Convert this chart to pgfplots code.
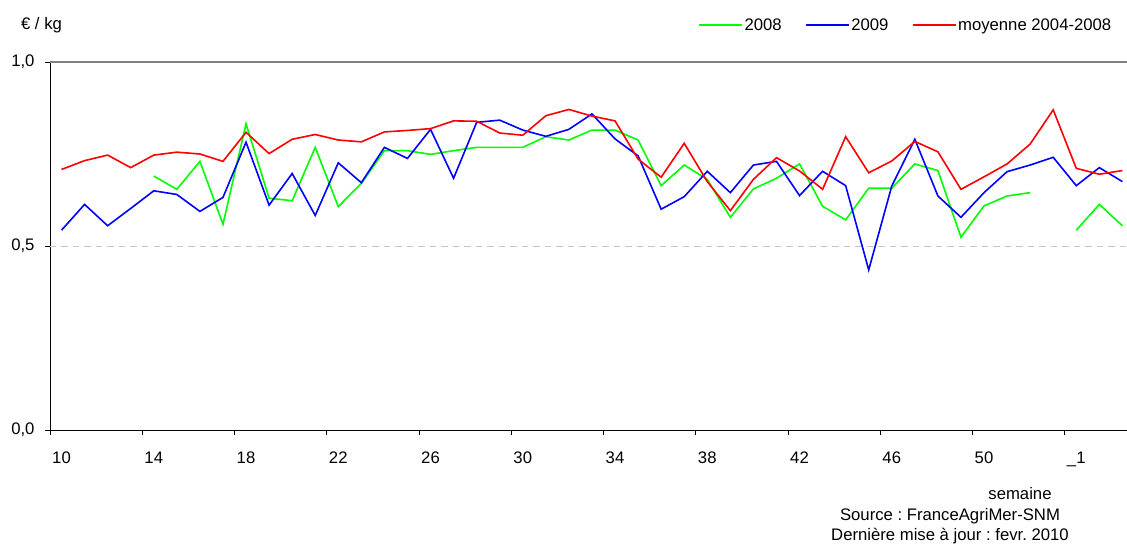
\documentclass[border=0pt]{standalone}
\usepackage{fontspec}
\setmainfont{Liberation Sans}
\usepackage{pgfplots}
\pgfplotsset{compat=1.18}
\newcommand\f{\fontsize{16.7}{20}\selectfont}
\definecolor{cgreen}{RGB}{0,255,0}
\definecolor{cblue}{RGB}{0,0,255}
\definecolor{cred}{RGB}{255,0,0}
\frenchspacing
\begin{document}
\begin{tikzpicture}
\path[use as bounding box] (-50pt,-116pt) rectangle (1077pt,430pt);
\begin{axis}[
  scale only axis, width=1077pt, height=368pt,
  xmin=-0.5, xmax=46.2, ymin=0, ymax=1,
  axis x line=bottom, axis y line=left,
  axis line style={-, black, line width=0.9pt},
  xtick={-0.5,3.5,7.5,11.5,15.5,19.5,23.5,27.5,31.5,35.5,39.5,43.5},
  xticklabels={10,14,18,22,26,30,34,38,42,46,50,\_1},
  xticklabel style={font=\f, xshift=11.53pt, yshift=-13pt},
  ytick={0,0.5,1},
  yticklabels={{0,0},{0,5},{1,0}},
  yticklabel style={font=\f, xshift=-7pt},
  tick align=outside, major tick length=5pt,
  tick style={black, line width=0.9pt},
  unbounded coords=jump,
  legend style={draw=none, fill=none, at={(axis description cs:0.987,1.1)}, anchor=east,
    legend columns=-1, font=\f, inner sep=0pt, nodes={inner sep=1.5pt},
    /tikz/every even column/.append style={column sep=22pt}},
  legend image code/.code={\draw[#1] (0pt,0pt) -- (43pt,0pt);},
  every axis plot/.append style={line width=1.6pt},
]
\draw[gray!45, line width=0.9pt, dash pattern=on 6.5pt off 5pt] (axis cs:-0.5,0.5) -- (axis cs:46.2,0.5);
\draw[gray, line width=1.2pt] (axis cs:-0.5,1) -- (axis cs:46.2,1);
\addplot[cgreen] coordinates {
(4,0.690) (5,0.654) (6,0.730) (7,0.559) (8,0.832) (9,0.630) (10,0.623) (11,0.768) (12,0.607)
(13,0.670) (14,0.759) (15,0.759) (16,0.749) (17,0.759) (18,0.768) (19,0.768) (20,0.768) (21,0.797) (22,0.788) (23,0.815) (24,0.815)
(25,0.788) (26,0.664) (27,0.720) (28,0.681) (29,0.578) (30,0.655) (31,0.684) (32,0.723) (33,0.608) (34,0.571) (35,0.657)
(36,0.657) (37,0.723) (38,0.705) (39,0.524) (40,0.609) (41,0.636) (42,0.645) (43,nan) (44,0.543) (45,0.613) (46,0.555)
};
\addlegendentry{2008}
\addplot[cblue] coordinates {
(0,0.543) (1,0.613) (2,0.555) (3,0.602) (4,0.650) (5,0.640) (6,0.594) (7,0.632) (8,0.782) (9,0.611) (10,0.697) (11,0.583) (12,0.726)
(13,0.672) (14,0.768) (15,0.738) (16,0.817) (17,0.684) (18,0.836) (19,0.842) (20,0.815) (21,0.798) (22,0.817) (23,0.859) (24,0.791)
(25,0.745) (26,0.600) (27,0.634) (28,0.703) (29,0.645) (30,0.720) (31,0.730) (32,0.637) (33,0.703) (34,0.664) (35,0.435)
(36,0.663) (37,0.790) (38,0.636) (39,0.578) (40,0.645) (41,0.702) (42,0.720) (43,0.741) (44,0.664) (45,0.713) (46,0.675)
};
\addlegendentry{2009}
\addplot[cred] coordinates {
(0,0.708) (1,0.732) (2,0.747) (3,0.713) (4,0.747) (5,0.755) (6,0.750) (7,0.730) (8,0.809) (9,0.751) (10,0.790) (11,0.803) (12,0.788)
(13,0.783) (14,0.810) (15,0.814) (16,0.819) (17,0.840) (18,0.839) (19,0.807) (20,0.801) (21,0.854) (22,0.871) (23,0.853) (24,0.840)
(25,0.736) (26,0.687) (27,0.779) (28,0.675) (29,0.596) (30,0.681) (31,0.740) (32,0.704) (33,0.654) (34,0.797) (35,0.699)
(36,0.731) (37,0.784) (38,0.756) (39,0.654) (40,0.688) (41,0.723) (42,0.777) (43,0.870) (44,0.711) (45,0.695) (46,0.705)
};
\addlegendentry{moyenne 2004-2008}
\end{axis}
\node[anchor=base, font=\f] at (-8.5pt,400.7pt) {€ / kg};
\node[anchor=base, font=\f] at (970pt,-69pt) {semaine};
\node[anchor=base, font=\f] at (900pt,-90.7pt) {Source : FranceAgriMer-SNM};
\node[anchor=base, font=\f] at (900pt,-110pt) {Dernière mise à jour : fevr. 2010};
\end{tikzpicture}
\end{document}
